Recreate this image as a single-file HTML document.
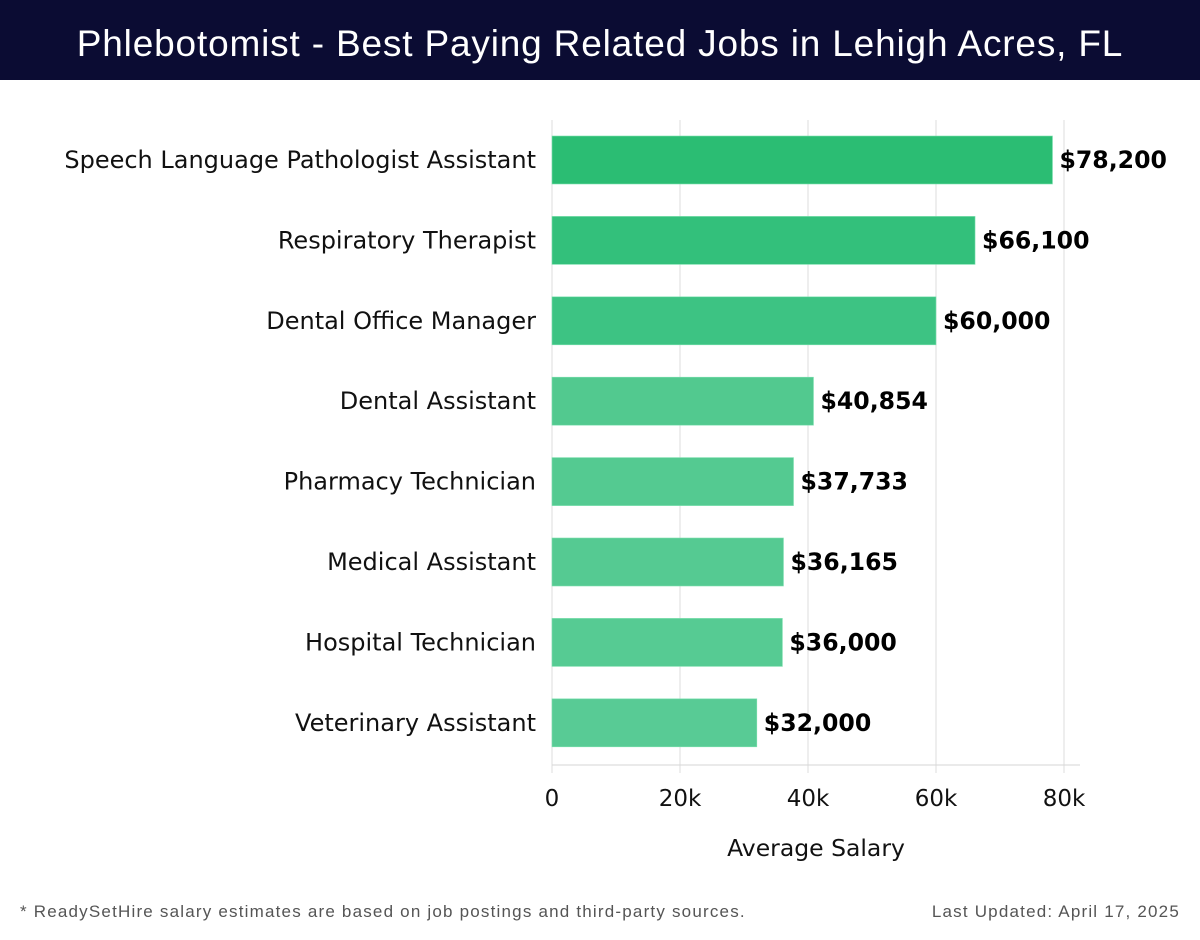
<!DOCTYPE html>
<html><head><meta charset="utf-8"><style>
body{margin:0;width:1200px;height:940px;background:#fff;font-family:"DejaVu Sans","Liberation Sans",sans-serif;overflow:hidden}
#hdr{position:absolute;left:0;top:0;width:1200px;height:80px;background:#0b0c33;color:#fff;font-size:37px;text-align:center;line-height:88px;font-family:"Liberation Sans",sans-serif;letter-spacing:0.83px}
.ft{position:absolute;top:902px;font-size:17px;color:#555;font-family:"Liberation Sans",sans-serif;letter-spacing:1.2px}
</style></head><body>
<div id="hdr">Phlebotomist - Best Paying Related Jobs in Lehigh Acres, FL</div>
<svg id="chart" width="1200" height="940" style="position:absolute;left:0;top:0"></svg>
<div class="ft" style="left:20px">* ReadySetHire salary estimates are based on job postings and third-party sources.</div>
<div class="ft" style="right:20px">Last Updated: April 17, 2025</div>
<script>
const categories=["Speech Language Pathologist Assistant","Respiratory Therapist","Dental Office Manager","Dental Assistant","Pharmacy Technician","Medical Assistant","Hospital Technician","Veterinary Assistant"];
const values=[78200,66100,60000,40854,37733,36165,36000,32000];
const ticks=[0,20000,40000,60000,80000];
const tickLabels=["0","20k","40k","60k","80k"];
const colors=["#2bbd73","#33c07b","#3dc383","#52c98f","#54ca91","#55ca92","#56cb93","#58cb95"];
const svg=document.getElementById('chart');const NS="http://www.w3.org/2000/svg";
const x=v=>552+v*(512/80000);
const yc=i=>160+i*80.4;
function mk(t,a,txt){const e=document.createElementNS(NS,t);for(const k in a)e.setAttribute(k,a[k]);if(txt!==undefined)e.textContent=txt;svg.appendChild(e);return e;}
ticks.forEach((t,i)=>{
 let g=mk('line',{x1:x(t),x2:x(t),y1:120,y2:773,stroke:'#dcdcdc','stroke-width':1});
 
 let l=mk('text',{x:x(t),y:806,'font-size':23,'text-anchor':'middle',fill:'#111'},tickLabels[i]);
 
});
let ax=mk('line',{x1:552,x2:1080,y1:765,y2:765,stroke:'#d6d6d6','stroke-width':1});

categories.forEach((c,i)=>{
 const y=yc(i);
 let b=mk('rect',{x:552,y:y-24,width:x(values[i])-552,height:48,fill:colors[i],stroke:'#7ee0b0','stroke-width':0.6});
 
 let lb=mk('text',{x:536,y:y+8,'font-size':24,'text-anchor':'end',fill:'#111'},c);
 
 let v=mk('text',{x:x(values[i])+7,y:y+8,'font-size':23.6,'font-weight':'bold',fill:'#000'},'$'+values[i].toLocaleString('en-US'));
 
});
let at=mk('text',{x:816,y:856,'font-size':23.5,'text-anchor':'middle',fill:'#111'},'Average Salary');

</script>
</body></html>
